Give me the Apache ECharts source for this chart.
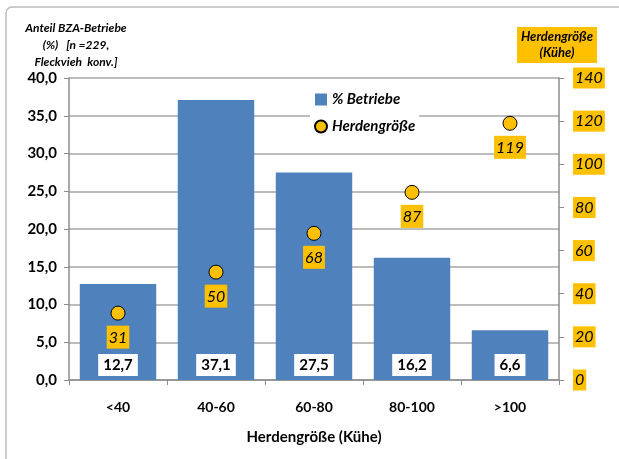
<!DOCTYPE html>
<html>
<head>
<meta charset="utf-8">
<script src="https://cdn.jsdelivr.net/npm/echarts@6/dist/echarts.min.js"></script>
<style>
  html, body { margin: 0; padding: 0; background: #fff; }
  #main { width: 619px; height: 459px; }
</style>
</head>
<body>
<div id="main"></div>
<script type="text/javascript">
    // Werte
    var categories = ['<40', '40-60', '60-80', '80-100', '>100'];
    var betriebe = [12.7, 37.1, 27.5, 16.2, 6.6];      // % Betriebe
    var herdengroesse = [31, 50, 68, 87, 119];          // Kühe
    var leftTicks = [0, 5, 10, 15, 20, 25, 30, 35, 40];
    var rightTicks = [0, 20, 40, 60, 80, 100, 120, 140];

    var FONT = 'Lato, "Open Sans", sans-serif';
    var komma = function (v) { return v.toFixed(1).replace('.', ','); };

    var myChart = echarts.init(document.getElementById('main'));
    var option = {
        backgroundColor: '#fff',
        textStyle: { fontFamily: FONT },
        graphic: [
            {
                type: 'rect',
                shape: { x: 6, y: 7, width: 700, height: 700, r: 6 },
                style: { fill: 'none', stroke: '#bdbdbd', lineWidth: 1.5 },
                silent: true
            },
            {
                type: 'text',
                x: 76, y: 20,
                style: {
                    text: 'Anteil BZA-Betriebe\n(%)   [n =229,\nFleckvieh  konv.]',
                    font: 'italic bold 12px Lato',
                    fill: '#000',
                    align: 'center',
                    verticalAlign: 'top',
                    lineHeight: 17
                },
                silent: true
            },
            {
                type: 'rect',
                shape: { x: 517, y: 27, width: 80, height: 36 },
                style: { fill: '#FFC000' },
                silent: true
            },
            {
                type: 'text',
                x: 557, y: 29,
                style: {
                    text: 'Herdengröße\n(Kühe)',
                    font: 'italic bold 13px Lato',
                    fill: '#000',
                    align: 'center',
                    verticalAlign: 'top',
                    lineHeight: 16
                },
                silent: true
            }
        ],
        legend: {
            orient: 'vertical',
            left: 310,
            top: 90,
            itemWidth: 12,
            itemHeight: 12,
            itemGap: 12,
            backgroundColor: '#fff',
            padding: [2, 4],
            textStyle: { fontFamily: FONT, fontSize: 15, fontWeight: 'bold', fontStyle: 'italic', color: '#000' },
            data: [
                { name: '% Betriebe', icon: 'rect' },
                { name: 'Herdengröße', icon: 'circle' }
            ]
        },
        grid: { left: 69, right: 60, top: 78, bottom: 79 },
        xAxis: {
            type: 'category',
            data: categories,
            name: 'Herdengröße (Kühe)',
            nameLocation: 'middle',
            nameGap: 50,
            nameTextStyle: { fontFamily: FONT, fontSize: 15, fontWeight: 'bold', color: '#000' },
            axisLine: { lineStyle: { color: '#8c8c8c', width: 1.5 } },
            axisTick: { show: true, length: 5, lineStyle: { color: '#8c8c8c' } },
            axisLabel: { fontFamily: FONT, fontSize: 14, fontWeight: 'bold', color: '#000', margin: 20 }
        },
        yAxis: [
            {
                type: 'value',
                min: 0, max: 40, interval: 5,
                axisLine: { show: true, lineStyle: { color: '#8c8c8c', width: 1.5 } },
                axisTick: { show: true, length: 5, lineStyle: { color: '#8c8c8c' } },
                splitLine: { lineStyle: { color: '#a6a6a6', width: 1.5 } },
                axisLabel: {
                    fontFamily: FONT, fontSize: 15, fontWeight: 'bold', color: '#000', margin: 12,
                    formatter: function (v) { return leftTicks.indexOf(v) > -1 ? komma(v) : ''; }
                }
            },
            {
                type: 'value',
                min: 0, max: 140, interval: 20,
                position: 'right',
                axisLine: { show: true, lineStyle: { color: '#8c8c8c', width: 1.5 } },
                axisTick: { show: true, length: 5, lineStyle: { color: '#8c8c8c' } },
                splitLine: { show: false },
                axisLabel: {
                    fontFamily: FONT, fontSize: 16, fontStyle: 'italic', color: '#000', margin: 14,
                    backgroundColor: '#FFC000', padding: [3, 2, 2, 2],
                    formatter: function (v) { return rightTicks.indexOf(v) > -1 ? String(v) : ''; }
                }
            }
        ],
        series: [
            {
                name: '% Betriebe',
                type: 'bar',
                data: betriebe,
                barWidth: '78%',
                itemStyle: { color: '#4F81BD' },
                label: {
                    show: true,
                    position: 'insideBottom',
                    distance: 4,
                    formatter: function (p) { return komma(p.value); },
                    fontFamily: FONT, fontSize: 15, fontWeight: 'bold', color: '#000',
                    backgroundColor: '#fff',
                    padding: [4, 5, 3, 5]
                }
            },
            {
                name: 'Herdengröße',
                type: 'scatter',
                yAxisIndex: 1,
                data: herdengroesse,
                symbol: 'circle',
                symbolSize: 14,
                itemStyle: { color: '#FFC000', borderColor: '#000', borderWidth: 1, opacity: 1 },
                label: {
                    show: true,
                    position: 'bottom',
                    distance: 5,
                    fontFamily: FONT, fontSize: 16, fontStyle: 'italic', color: '#000',
                    backgroundColor: '#FFC000',
                    padding: [4, 2, 3, 2]
                }
            }
        ]
    };
    myChart.setOption(option);
</script>
</body>
</html>
